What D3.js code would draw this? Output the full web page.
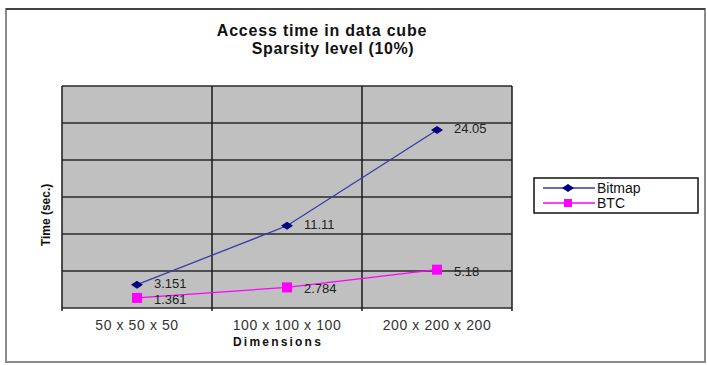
<!DOCTYPE html>
<html>
<head>
<meta charset="utf-8">
<script src="https://cdn.jsdelivr.net/npm/d3@7"></script>
<style>
  html, body { margin: 0; padding: 0; background: #fff; }
  svg { display: block; font-family: "Liberation Sans", Arial, sans-serif; }
</style>
</head>
<body>
<svg id="chart" width="707" height="365"></svg>
<script>
// Access time measurements per cube size
const categories = ["50 x 50 x 50", "100 x 100 x 100", "200 x 200 x 200"];
const bitmapValues = [3.151, 11.11, 24.05];
const btcValues = [1.361, 2.784, 5.18];
const seriesNames = ["Bitmap", "BTC"];
const yTicks = [0, 5, 10, 15, 20, 25, 30];

const svg = d3.select("#chart");
const plot = { left: 62, right: 512, top: 86, bottom: 308 };

// Outer frame
svg.append("rect").attr("x", 6).attr("y", 9).attr("width", 699).attr("height", 353)
  .attr("fill", "#fff").attr("stroke", "#8a8a8a").attr("stroke-width", 2);
svg.append("line").attr("x1", 6).attr("x2", 705).attr("y1", 9).attr("y2", 9)
  .attr("stroke", "#444").attr("stroke-width", 2);

// Titles
svg.append("text").attr("x", 322).attr("y", 36).attr("text-anchor", "middle")
  .attr("font-size", 16).attr("font-weight", "bold").attr("fill", "#111")
  .attr("letter-spacing", 0.8).text("Access time in data cube");
svg.append("text").attr("x", 333).attr("y", 54).attr("text-anchor", "middle")
  .attr("font-size", 16).attr("font-weight", "bold").attr("fill", "#111")
  .attr("letter-spacing", 0.6).text("Sparsity level  (10%)");

const x = d3.scaleBand().domain(categories).range([plot.left, plot.right]);
const y = d3.scaleLinear().domain([0, 30]).range([plot.bottom, plot.top]);

// Plot area
svg.append("rect").attr("x", plot.left).attr("y", plot.top)
  .attr("width", plot.right - plot.left).attr("height", plot.bottom - plot.top)
  .attr("fill", "#c0c0c0");

// Horizontal gridlines
svg.append("g").selectAll("line").data(yTicks).join("line")
  .attr("x1", plot.left).attr("x2", plot.right)
  .attr("y1", d => y(d)).attr("y2", d => y(d))
  .attr("stroke", "#2a2a2a").attr("stroke-width", 1.4);

// Vertical category separators
const seps = categories.map(c => x(c)).concat([plot.right]);
svg.append("g").selectAll("line").data(seps).join("line")
  .attr("x1", d => d).attr("x2", d => d)
  .attr("y1", plot.top).attr("y2", plot.bottom + 3)
  .attr("stroke", "#1a1a1a").attr("stroke-width", 1.5);

// X axis labels
const xAxis = d3.axisBottom(x).tickSize(0).tickPadding(12);
const gx = svg.append("g").attr("transform", `translate(0,${plot.bottom})`).call(xAxis);
gx.select(".domain").remove();
gx.selectAll("text").attr("font-size", 14).attr("fill", "#333")
  .attr("letter-spacing", 0.6)
  .attr("font-family", "Liberation Sans, Arial, sans-serif");

svg.append("text").attr("x", 278).attr("y", 346).attr("text-anchor", "middle")
  .attr("font-size", 12).attr("font-weight", "bold").attr("fill", "#111")
  .attr("letter-spacing", 2.2).text("Dimensions");

svg.append("text").attr("transform", "translate(50,215) rotate(-90)")
  .attr("text-anchor", "middle").attr("font-size", 12).attr("font-weight", "bold")
  .attr("fill", "#111").text("Time (sec.)");

const cx = c => x(c) + x.bandwidth() / 2;
const line = d3.line().x(d => cx(d[0])).y(d => y(d[1]));

const bitmap = categories.map((c, i) => [c, bitmapValues[i]]);
const btc = categories.map((c, i) => [c, btcValues[i]]);

const bitmapColor = "#3a3aa8", bitmapMarker = "#000080";
const btcColor = "#ff00ff";

svg.append("path").datum(bitmap).attr("d", line).attr("fill", "none")
  .attr("stroke", bitmapColor).attr("stroke-width", 1.3);
svg.append("path").datum(btc).attr("d", line).attr("fill", "none")
  .attr("stroke", btcColor).attr("stroke-width", 1.3);

const diamond = (px, py) => `M${px - 6},${py} L${px},${py - 4} L${px + 6},${py} L${px},${py + 4} Z`;
svg.append("g").selectAll("path").data(bitmap).join("path")
  .attr("d", d => diamond(cx(d[0]), y(d[1]))).attr("fill", bitmapMarker);
svg.append("g").selectAll("rect").data(btc).join("rect")
  .attr("x", d => cx(d[0]) - 5).attr("y", d => y(d[1]) - 5)
  .attr("width", 10).attr("height", 10).attr("fill", btcColor);

// Value labels
const labelG = svg.append("g").attr("font-size", 13).attr("fill", "#222");
labelG.selectAll("text.bm").data(bitmap).join("text").attr("class", "bm")
  .attr("x", d => cx(d[0]) + 17).attr("y", d => y(d[1]) + 3).text(d => String(d[1]));
labelG.selectAll("text.bt").data(btc).join("text").attr("class", "bt")
  .attr("x", d => cx(d[0]) + 17).attr("y", d => y(d[1]) + 6).text(d => String(d[1]));

// Legend
const lg = svg.append("g");
lg.append("rect").attr("x", 534).attr("y", 178).attr("width", 164).attr("height", 35)
  .attr("fill", "#fff").attr("stroke", "#111").attr("stroke-width", 1.5);
const legendRows = [
  { name: seriesNames[0], color: bitmapColor, y: 188 },
  { name: seriesNames[1], color: btcColor, y: 203 }
];
legendRows.forEach((r, i) => {
  lg.append("line").attr("x1", 543).attr("x2", 595).attr("y1", r.y).attr("y2", r.y)
    .attr("stroke", r.color).attr("stroke-width", 1.3);
  if (i === 0) lg.append("path").attr("d", diamond(568, r.y)).attr("fill", bitmapMarker);
  else lg.append("rect").attr("x", 564).attr("y", r.y - 4).attr("width", 8).attr("height", 8).attr("fill", btcColor);
  lg.append("text").attr("x", 597).attr("y", r.y + 5).attr("font-size", 14)
    .attr("fill", "#111").text(r.name);
});
</script>
</body>
</html>
